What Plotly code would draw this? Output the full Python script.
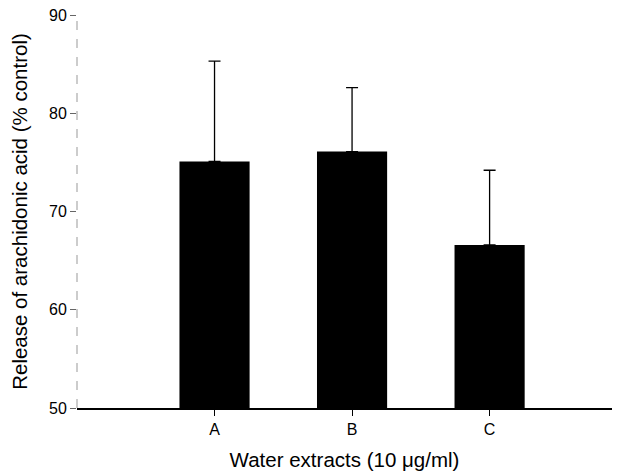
import plotly.graph_objects as go

categories = ["A", "B", "C"]
means = [75.1, 76.1, 66.6]
err_plus = [10.2, 6.5, 7.6]
y_ticks = [50, 60, 70, 80, 90]

xpos = list(range(len(categories)))

fig = go.Figure()
fig.add_trace(go.Bar(
    x=xpos, y=[m - 50 for m in means], base=50,
    width=0.51,
    marker=dict(color="black", line=dict(width=0)),
    error_y=dict(type="data", array=err_plus, arrayminus=[0] * len(err_plus),
                 symmetric=False, color="black", thickness=1.3, width=6),
))

font = "Liberation Sans, Arial, sans-serif"
fig.update_layout(
    width=639, height=476,
    margin=dict(l=69, r=35, t=7, b=76, autoexpand=False),
    plot_bgcolor="white", paper_bgcolor="white",
    showlegend=False,
    font=dict(family=font, color="black", size=16),
    xaxis=dict(
        range=[-1.0, 2.89], tickvals=xpos, ticktext=categories,
        showline=True, linecolor="black", linewidth=1.5,
        ticks="outside", ticklen=6, tickcolor="black", tickwidth=1.3,
        showgrid=False, zeroline=False, automargin=False,
        ticklabeloverflow="allow",
        title=dict(text="Water extracts (10 \u03bcg/ml)", font=dict(size=20.5), standoff=16),
        tickfont=dict(size=16),
    ),
    yaxis=dict(
        range=[50, 90], tickvals=y_ticks,
        showline=False,
        ticks="outside", ticklen=6, tickcolor="#666666", tickwidth=1,
        showgrid=False, zeroline=False, automargin=False,
        ticklabeloverflow="allow",
        title=dict(text="Release of arachidonic acid (% control)", font=dict(size=20.5), standoff=22),
        tickfont=dict(size=16),
    ),
    shapes=[dict(type="line", xref="paper", yref="paper", x0=0, x1=0, y0=0, y1=1,
                 line=dict(color="#999999", width=1, dash="dash"))],
)
fig.write_html("out.html")
